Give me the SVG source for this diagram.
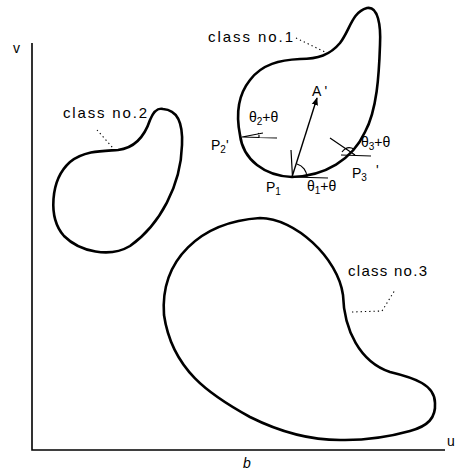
<svg xmlns="http://www.w3.org/2000/svg" width="456" height="470" viewBox="0 0 456 470">
<style>
.shape{fill:none;stroke:#000;stroke-width:2.6;stroke-linejoin:round}
.thin{fill:none;stroke:#000;stroke-width:1.2}
.axis{fill:none;stroke:#000;stroke-width:1.6}
.dot{fill:none;stroke:#000;stroke-width:1.1;stroke-dasharray:1.3 3}
text{font-family:"Liberation Sans",Arial,sans-serif;font-size:14px;fill:#000}
.cls{font-size:15px}
.sub{font-size:10px}
</style>
<defs>
<marker id="ah" viewBox="0 0 10 10" refX="9" refY="5" markerWidth="8" markerHeight="8" orient="auto" markerUnits="userSpaceOnUse">
<path d="M0,1 L10,5 L0,9 z" fill="#000"/>
</marker>
</defs>
<g id="axes">
<path class="axis" d="M32,43 V450 H445"/>
<text x="13" y="53" font-size="11">v</text>
<text x="243" y="468" font-size="12" font-style="italic">b</text>
<text x="447" y="446" font-size="10">u</text>
</g>
<g id="class1">
<path class="shape" d="M292,177 C265,176 243,160 240,135 C236,115 238,95 250,80 C262,64 280,60 300,59 C318,59 330,55 340,43 C350,30 352,12 367,8 C378,6 381,25 380,45 C379,75 377,110 365,132 C352,160 325,176 292,177 Z"/>
<text class="cls" x="208" y="42" textLength="85" lengthAdjust="spacing">class no.1</text>
</g>
<g id="class2">
<path class="shape" d="M163,109 C178,110 183,125 182,145 C181,185 160,225 130,246 C110,258 80,252 64,236 C48,218 50,180 70,162 C85,150 105,151 118,150 C135,148 145,135 150,120 C154,110 158,108 163,109 Z"/>
<text class="cls" x="63" y="118" textLength="84" lengthAdjust="spacing">class no.2</text>
</g>
<g id="class3">
<path class="shape" d="M260,218 C295,218 338,258 343,295 C344,330 360,362 390,372 C415,378 435,385 435,403 C436,418 428,426 410,431 C385,438 365,440 345,440 C310,441 280,432 250,417 C210,395 172,370 164,315 C160,260 200,222 260,218 Z"/>
<text class="cls" x="348" y="276" textLength="79" lengthAdjust="spacing">class no.3</text>
</g>
<g id="construction">
<path class="thin" d="M242,137 L277,138 M242,137 L263,133 M258,133 Q259.5,135 259,137.5"/>
<path class="thin" d="M292,177 L328,178 M292.5,177 L291,150 M297,164 A14,14 0 0 1 307,177"/>
<path class="thin" d="M341,155 L371,156 M330,138 L355,155 M342,152 Q347,145 354,149"/>
<path d="M292,177 L317,98" stroke="#000" stroke-width="1.4" fill="none" marker-end="url(#ah)"/>
<text x="312" y="96">A '</text>
<text x="249" y="122">θ<tspan class="sub" dy="3">2</tspan><tspan dy="-3">+θ</tspan></text>
<text x="211" y="150">P<tspan class="sub" dy="3">2</tspan><tspan dy="-3">'</tspan></text>
<text x="266" y="192">P<tspan class="sub" dy="3">1</tspan></text>
<text x="307" y="191">θ<tspan class="sub" dy="3">1</tspan><tspan dy="-3">+θ</tspan></text>
<text x="352" y="178">P<tspan class="sub" dy="3">3</tspan></text>
<text x="376" y="175">'</text>
<text x="361" y="147">θ<tspan class="sub" dy="3">3</tspan><tspan dy="-3">+θ</tspan></text>
</g>
<g id="connectors">
<path class="dot" d="M296,38 L327,53"/>
<path class="dot" d="M97,130 L113,148"/>
<path class="dot" d="M352,312 L382,311 L395,290"/>
</g>
</svg>
